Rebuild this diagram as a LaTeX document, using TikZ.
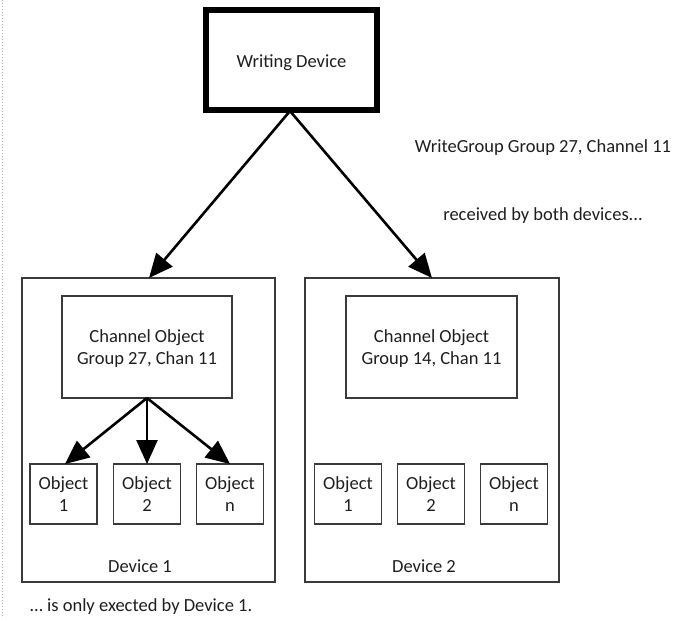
\documentclass[tikz,border=0pt]{standalone}
\usepackage{fontspec}
\setmainfont{Carlito}
\usetikzlibrary{arrows.meta}
\definecolor{txt}{HTML}{1E1E1E}
\definecolor{edge}{HTML}{3A3A3A}
\tikzset{
  every node/.style={font=\fontsize{18.5}{22}\selectfont, text=txt, align=center, inner sep=0pt},
  devbox/.style={draw=edge, line width=1.3pt, fill=none},
  chbox/.style={draw=edge, line width=1.1pt, rectangle},
  objbox/.style={draw=edge, line width=1.1pt, rectangle, minimum width=67pt, minimum height=60pt},
  bigarrow/.style={draw=black, line width=2.6pt, -{Triangle[length=24pt,width=21pt]}, shorten >=0pt},
}
\begin{document}
\begin{tikzpicture}[x=1pt,y=-1pt]
\useasboundingbox (0,0) rectangle (690,618);
% screenshot edge
\draw[gray!60, line width=1pt, dotted] (2,0) -- (2,618);
% writing device
\node[draw=black, line width=6pt, minimum width=171pt, minimum height=100pt] (wd) at (291.5,60) {};
\node (wdt) at (291.5,62.5) {Writing Device};
% device boxes
\node[devbox, minimum width=253pt, minimum height=304pt] (d1) at (148.5,430) {};
\node[devbox, minimum width=254pt, minimum height=304pt] (d2) at (432,430) {};
\node (d1l) at (140,566) {Device 1};
\node (d2l) at (424,566) {Device 2};
% channel objects
\node[chbox, minimum width=170pt, minimum height=102pt] (c1) at (147,347) {};
\node (c1t) at (147,349) {Channel Object\\Group 27, Chan 11};
\node[chbox, minimum width=171pt, minimum height=102pt] (c2) at (431.5,347) {};
\node (c2t) at (431.5,349) {Channel Object\\Group 14, Chan 11};
% objects
\node[objbox] (o11) at (63.5,494) {Object\\1};
\node[objbox] (o12) at (147,494) {Object\\2};
\node[objbox] (o1n) at (230,494) {Object\\n};
\node[objbox] (o21) at (348,494) {Object\\1};
\node[objbox] (o22) at (431,494) {Object\\2};
\node[objbox] (o2n) at (514,494) {Object\\n};
% coordinates for arrow tips
\coordinate (wdb) at (290,111);
\coordinate (t1) at (149,278);
\coordinate (t2) at (432,278);
\coordinate (cb) at (147,398);
\coordinate (ta) at (65,464);
\coordinate (tb) at (147,464);
\coordinate (tc) at (230,464);
\draw[bigarrow] (wdb) -- (t1);
\draw[bigarrow] (wdb) -- (t2);
\draw[bigarrow] (cb) -- (ta);
\draw[bigarrow] (cb) -- (tb);
\draw[bigarrow] (cb) -- (tc);
% labels
\node (l1) at (543,148) {WriteGroup Group 27, Channel 11};
\node (l2) at (543,216) {received by both devices...};
\node[anchor=west] (l3) at (30,607) {\dots\ is only exected by Device 1.};
\end{tikzpicture}
\end{document}
